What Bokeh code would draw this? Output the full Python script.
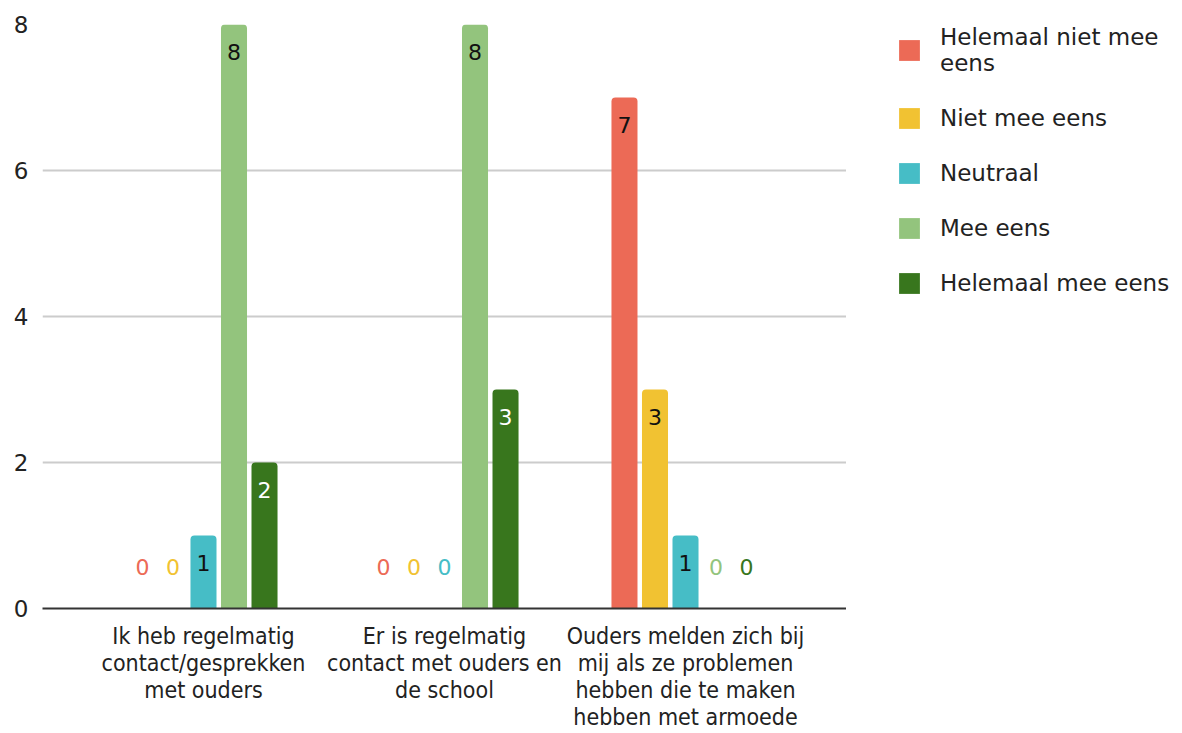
from bokeh.plotting import figure
from bokeh.layouts import row
from bokeh.models import FactorRange, Range1d, ColumnDataSource, Legend, LegendItem, FixedTicker
from bokeh.transform import dodge
from bokeh.core.properties import value
from bokeh.embed import file_html
from bokeh.resources import INLINE

categories = [
    "Ik heb regelmatig\ncontact/gesprekken\nmet ouders",
    "Er is regelmatig\ncontact met ouders en\nde school",
    "Ouders melden zich bij\nmij als ze problemen\nhebben die te maken\nhebben met armoede",
]
series_names = ["Helemaal niet mee eens", "Niet mee eens", "Neutraal", "Mee eens", "Helemaal mee eens"]
legend_labels = ["Helemaal niet mee\neens", "Niet mee eens", "Neutraal", "Mee eens", "Helemaal mee eens"]
helemaal_niet_mee_eens = [0, 0, 7]
niet_mee_eens = [0, 0, 3]
neutraal = [1, 0, 1]
mee_eens = [8, 8, 0]
helemaal_mee_eens = [2, 3, 0]
y_ticks = [0, 2, 4, 6, 8]

series_values = [helemaal_niet_mee_eens, niet_mee_eens, neutraal, mee_eens, helemaal_mee_eens]
colors = ["#ec6a56", "#f1c232", "#46bdc6", "#93c47d", "#38761d"]
inner_label_colors = ["#111111", "#111111", "#111111", "#111111", "#ffffff"]

FONT = "DejaVu Sans"
CAT_FONT = "DejaVu Sans Condensed, Liberation Sans Narrow, DejaVu Sans"

TOTAL_W, TOTAL_H = 1182, 733
MAIN_W = 846

p = figure(
    width=MAIN_W, height=TOTAL_H,
    x_range=FactorRange(*categories, range_padding=0.112),
    y_range=Range1d(0, 8),
    output_backend="svg", toolbar_location=None,
    min_border_left=42, min_border_top=24, min_border_bottom=121, min_border_right=0,
)
p.outline_line_color = None
p.background_fill_color = "white"

step = 0.1266
bar_w = 0.108
for i, (name, vals, col) in enumerate(zip(series_names, series_values, colors)):
    off = (i - 2) * step
    label_y_off = [(-42 if v == 0 else 27) for v in vals]
    label_col = [(col if v == 0 else inner_label_colors[i]) for v in vals]
    src = ColumnDataSource(dict(cat=categories, val=vals, txt=[str(v) for v in vals],
                                yoff=label_y_off, tcol=label_col))
    p.vbar(x=dodge("cat", off, range=p.x_range), top="val", width=bar_w, source=src,
           fill_color=col, line_color=None, border_radius=(4, 4, 0, 0))
    p.text(x=dodge("cat", off, range=p.x_range), y="val", text="txt", source=src,
           y_offset="yoff", text_color="tcol", text_align="center", text_baseline="middle",
           text_font=value(FONT), text_font_size="22px")

# axes
p.yaxis.ticker = FixedTicker(ticks=y_ticks)
p.yaxis.axis_line_color = None
p.yaxis.major_tick_line_color = None
p.yaxis.minor_tick_line_color = None
p.yaxis.major_label_text_font = FONT
p.yaxis.major_label_text_font_size = "23px"
p.yaxis.major_label_text_color = "#222222"
p.yaxis.major_label_standoff = 8

p.xaxis.axis_line_color = "#333333"
p.xaxis.axis_line_width = 2
p.xaxis.major_tick_line_color = None
p.xaxis.minor_tick_line_color = None
p.xaxis.major_label_text_font = CAT_FONT
p.xaxis.major_label_text_font_size = "23px"
p.xaxis.major_label_text_color = "#222222"
p.xaxis.major_label_standoff = 8
p.xaxis.major_label_text_line_height = 1.05
p.xaxis.major_label_orientation = "horizontal"

p.xgrid.grid_line_color = None
p.ygrid.grid_line_color = "#cccccc"
p.ygrid.grid_line_width = 2

# legend in its own panel to the right
lf = figure(width=TOTAL_W - MAIN_W, height=TOTAL_H, x_range=Range1d(0, 1), y_range=Range1d(0, 1),
            output_backend="svg", toolbar_location=None,
            min_border_left=50, min_border_right=0, min_border_top=0, min_border_bottom=0)
lf.axis.visible = False
lf.grid.visible = False
lf.outline_line_color = None
items = []
for name, lab, col in zip(series_names, legend_labels, colors):
    # zero-height proxy bar: only its legend swatch is visible
    r = lf.vbar(x=[0], top=[0], bottom=[0], width=0, fill_color=col, line_color=None)
    items.append(LegendItem(label=lab, renderers=[r]))

legend = Legend(items=items, location="top_left")
legend.label_text_font = FONT
legend.label_text_font_size = "23px"
legend.label_text_color = "#222222"
legend.label_text_line_height = 1.4
legend.glyph_width = 26
legend.glyph_height = 26
legend.label_standoff = 18
legend.spacing = 29
legend.padding = 0
legend.margin = 0
legend.border_line_color = None
legend.background_fill_alpha = 0
lf.add_layout(legend, "center")

layout = row(p, lf, spacing=0)
open("out.html", "w").write(file_html(layout, INLINE))
